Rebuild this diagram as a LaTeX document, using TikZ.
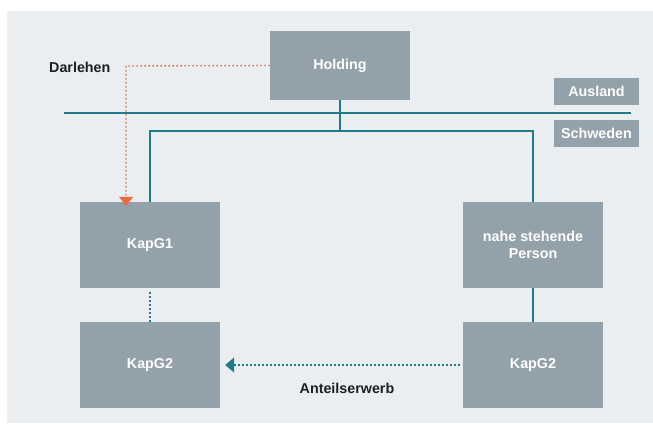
\documentclass[tikz,border=0pt]{standalone}
\usepackage{fontspec}
\setmainfont{Liberation Sans}
\usetikzlibrary{arrows.meta}
\definecolor{bgpanel}{HTML}{EAEEF1}
\definecolor{boxfill}{HTML}{93A2AA}
\definecolor{tealline}{HTML}{1F7B8A}
\definecolor{orangeline}{HTML}{EE6A3C}
\definecolor{labeltext}{HTML}{1E1E22}
\tikzset{
  ent/.style={fill=boxfill, draw=none, text=white, font=\bfseries\fontsize{14.3}{17}\selectfont, align=center, inner sep=0pt},
  lbl/.style={text=labeltext, font=\bfseries\fontsize{14.3}{17}\selectfont, inner sep=0pt},
  conn/.style={draw=tealline, line width=1.4pt},
  dotconn/.style={draw=tealline, line width=1.4pt, dash pattern=on 1.4pt off 2.6pt},
}
\begin{document}
\begin{tikzpicture}[x=1pt,y=-1pt]
\useasboundingbox (0,0) rectangle (653,423);
\fill[white] (0,0) rectangle (653,423);
\fill[bgpanel] (6.5,11) rectangle (653,423);
% boxes
\node[ent, minimum width=140pt, minimum height=69pt] (hold) at (340,65.5) {Holding};
\node[ent, minimum width=85pt, minimum height=27pt] (ausl) at (596.5,91.5) {Ausland};
\node[ent, minimum width=85pt, minimum height=27pt] (schw) at (596.5,133.5) {Schweden};
\node[ent, minimum width=140pt, minimum height=86pt] (k1) at (150,245) {KapG1};
\node[ent, minimum width=140pt, minimum height=86pt] (k2l) at (150,365) {KapG2};
\node[ent, minimum width=140pt, minimum height=86pt] (nsp) at (533,245) {nahe stehende\\Person};
\node[ent, minimum width=140pt, minimum height=86pt] (k2r) at (533,365) {KapG2};
% border line
\coordinate (bl) at (64,113);
\coordinate (br) at (631,113);
\draw[conn] (bl) -- (br);
% tree
\coordinate (junc) at (340,131);
\draw[conn] (hold.south) -- (junc);
\draw[conn] (k1.north) |- (junc) -| (nsp.north);
\draw[conn] (nsp.south) -- (k2r.north);
\draw[dotconn] (k1.south) ++(0,4) -- (k2l.north);
% Anteilserwerb
\draw[dotconn, -{Triangle[length=9pt,width=15pt]}] (k2r.west) ++(-3,0) -- ([xshift=5pt]k2l.east);
\node[lbl] (anteil) at (347,388) {Anteilserwerb};
% Darlehen
\coordinate (dcorner) at (126,66);
\draw[draw=orangeline, line width=1.4pt, dash pattern=on 1.4pt off 2.6pt, -{Triangle[length=9pt,width=14pt]}] (hold.west) -- (dcorner) -- ([yshift=-4pt]k1.north -| dcorner);
\node[lbl, anchor=west] (darl) at (49,67) {Darlehen};
\end{tikzpicture}
\end{document}
